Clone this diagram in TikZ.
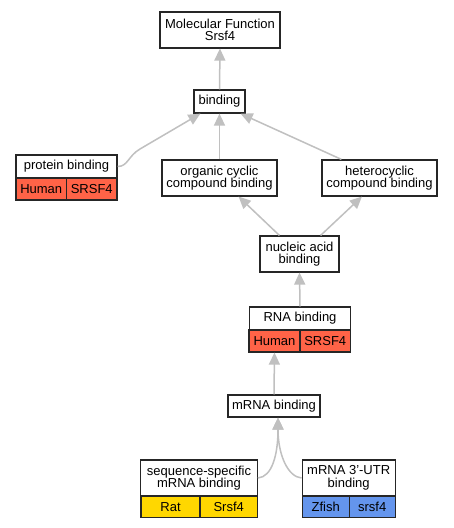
\documentclass[tikz,border=0pt]{standalone}
\usepackage{fontspec}
\setmainfont{Liberation Sans}
\usetikzlibrary{arrows.meta}
\definecolor{edgec}{RGB}{192,192,192}
\definecolor{human}{RGB}{255,99,71}
\definecolor{rat}{RGB}{255,215,0}
\definecolor{zfish}{RGB}{100,149,237}
\begin{document}
\begin{tikzpicture}[x=1pt,y=-1pt,
  box/.style={draw=black!85, line width=1.2pt, fill=white, inner sep=0pt, align=center,
    font=\fontsize{13}{12.6}\selectfont},
  cell/.style={box, minimum height=22pt},
  edge/.style={draw=edgec, line width=1.5pt, -{Triangle[length=12pt,width=11pt,fill=edgec]}}]
\useasboundingbox (0,0) rectangle (453,528);
\fill[white] (0,0) rectangle (453,528);

% nodes
\node[box, minimum width=120pt, minimum height=36pt] (mf) at (220,30) {Molecular Function\\Srsf4};
\node[box, minimum width=51pt, minimum height=23pt] (bind) at (219.5,101.5) {binding};

\node[box, minimum width=101pt, minimum height=23pt] (prot) at (66.5,166.5) {protein binding};
\node[cell, fill=human, minimum width=50.5pt] (protH) at (41.25,189) {Human};
\node[cell, fill=human, minimum width=50.5pt] (protS) at (91.75,189) {SRSF4};

\node[box, minimum width=115pt, minimum height=36pt] (org) at (219.5,178) {organic cyclic\\compound binding};
\node[box, minimum width=115pt, minimum height=36pt] (het) at (379.5,178) {heterocyclic\\compound binding};
\node[box, minimum width=79pt, minimum height=36pt] (nuc) at (299.5,254) {nucleic acid\\binding};

\node[box, minimum width=101.5pt, minimum height=23pt] (rna) at (300,318.5) {RNA binding};
\node[cell, fill=human, minimum width=51pt] (rnaH) at (274.5,341) {Human};
\node[cell, fill=human, minimum width=50.5pt] (rnaS) at (325.25,341) {SRSF4};

\node[box, minimum width=92pt, minimum height=22pt] (mrna) at (274,406) {mRNA binding};

\node[box, minimum width=116.5pt, minimum height=36pt] (seq) at (199,478) {sequence-specific\\mRNA binding};
\node[cell, fill=rat, minimum width=59pt, minimum height=21.5pt] (seqR) at (170.5,507) {Rat};
\node[cell, fill=rat, minimum width=57.5pt, minimum height=21.5pt] (seqS) at (228.7,507) {Srsf4};

\node[box, minimum width=93pt, minimum height=36pt] (utr) at (348.7,478) {mRNA 3'-UTR\\binding};
\node[cell, fill=zfish, minimum width=47pt, minimum height=21.5pt] (utrZ) at (325.7,507) {Zfish};
\node[cell, fill=zfish, minimum width=46pt, minimum height=21.5pt] (utrS) at (372.2,507) {srsf4};

% edges
\draw[edge] (bind.north) -- (mf.south);
\draw[edge] (org.north) -- (bind.south);
\draw[edge] ([xshift=20pt]het.north west) -- ([xshift=-5pt]bind.south east);
\draw[edge] (prot.east) .. controls (128,166.5) and (128,156) .. (140,149) -- ([xshift=7pt]bind.south west);
\draw[edge] ([xshift=20pt]nuc.north west) -- ([xshift=-39pt]org.south east);
\draw[edge] ([xshift=-19pt]nuc.north east) -- ([xshift=40.5pt]het.south west);
\draw[edge] (rna.north) -- (nuc.south);
\draw[edge] (mrna.north) -- (rnaH.south);
\draw[edge] (seq.east) .. controls (272,477) and (278,455) .. ([xshift=4pt]mrna.south);
\draw[edge] (utr.west) .. controls (288,477) and (278,455) .. ([xshift=4pt]mrna.south);
\end{tikzpicture}
\end{document}
